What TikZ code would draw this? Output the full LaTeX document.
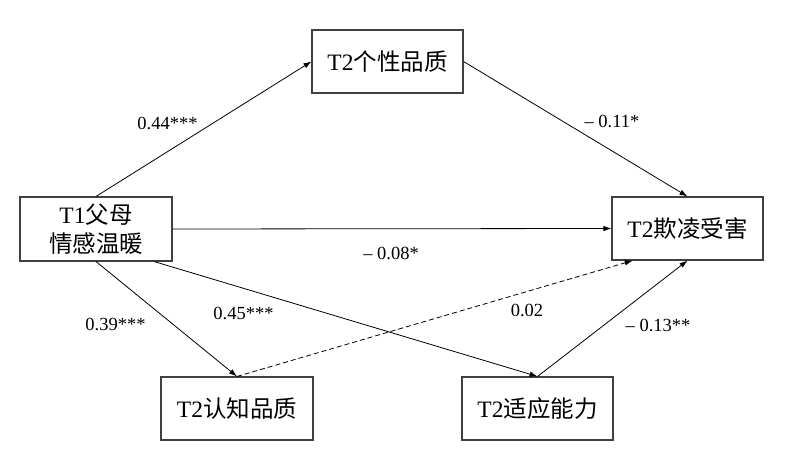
\documentclass[tikz,border=0pt]{standalone}
\usepackage{fontspec}
\setmainfont{Liberation Serif}
\newfontfamily\cjk{Noto Sans CJK SC}
\usetikzlibrary{arrows.meta,calc}
\begin{document}
\begin{tikzpicture}[x=1pt,y=-1pt,
  box/.style={draw=black!75,line width=1.1pt,rectangle,inner sep=0pt,align=center,font=\fontsize{23.5}{29}\selectfont},
  conn/.style={line width=0.8pt,-{Latex[length=8pt,width=5.5pt]}},
  lab/.style={font=\fontsize{18.5}{22}\selectfont,inner sep=0pt}]
\useasboundingbox (0,0) rectangle (791,449);
\node[box,minimum width=152pt,minimum height=64pt] (t1) at (96,229) {T1{\cjk 父母}\\{\cjk 情感温暖}};
\node[box,minimum width=151pt,minimum height=63pt] (gx) at (387.5,61.5) {T2{\cjk 个性品质}};
\node[box,minimum width=151pt,minimum height=63pt] (ql) at (687.5,228.5) {T2{\cjk 欺凌受害}};
\node[box,minimum width=152pt,minimum height=63pt] (rz) at (237,408.5) {T2{\cjk 认知品质}};
\node[box,minimum width=151pt,minimum height=63pt] (sy) at (537.5,408.5) {T2{\cjk 适应能力}};
\draw[conn] (t1.north) -- (gx.west);
\draw[conn] (gx.east) -- (ql.north);
\draw[conn] (t1.east) -- (ql.west);
\draw[conn] (t1.south) -- (rz.north);
\draw[conn] ($(t1.south west)!0.88!(t1.south east)$) -- (sy.north);
\draw[conn,dash pattern=on 5pt off 3pt] (rz.north) -- ($(ql.south west)!0.14!(ql.south east)$);
\draw[conn] (sy.north) -- (ql.south);
\node[lab] (l1) at (167.5,123) {0.44***};
\node[lab] (l2) at (612,121) {– 0.11*};
\node[lab] (l3) at (391,253) {– 0.08*};
\node[lab] (l4) at (527,310) {0.02};
\node[lab] (l5) at (115.5,324) {0.39***};
\node[lab] (l6) at (243.5,313) {0.45***};
\node[lab] (l7) at (658,325) {– 0.13**};
\end{tikzpicture}
\end{document}
